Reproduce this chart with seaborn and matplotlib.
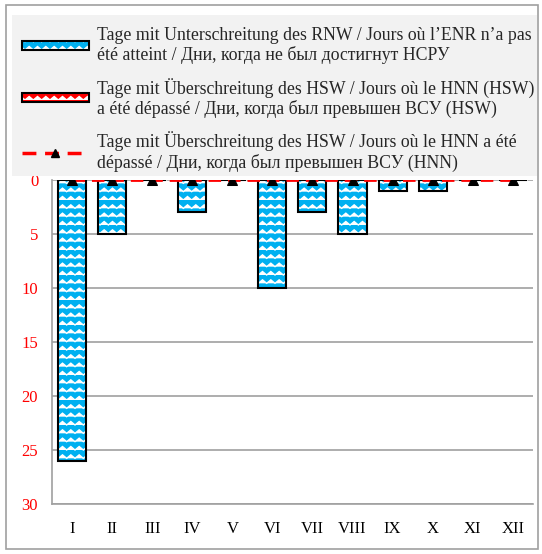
import numpy as np
import pandas as pd
import matplotlib
matplotlib.use('Agg')
import matplotlib.pyplot as plt
import seaborn as sns
from matplotlib import hatch as mhatch
from matplotlib.path import Path
from matplotlib.patches import Rectangle
from matplotlib.lines import Line2D
from matplotlib.legend_handler import HandlerTuple

MONTHS = ['I', 'II', 'III', 'IV', 'V', 'VI', 'VII', 'VIII', 'IX', 'X', 'XI', 'XII']
RNW_DAYS = [26, 5, 0, 3, 0, 10, 3, 5, 1, 1, 0, 0]   # Unterschreitung RNW
HSW_DAYS = [0, 0, 0, 0, 0, 0, 0, 0, 0, 0, 0, 0]     # Überschreitung HSW (Balken)
HNN_DAYS = [0, 0, 0, 0, 0, 0, 0, 0, 0, 0, 0, 0]     # Überschreitung HSW/HNN (Linie)
LABELS = ['Tage mit Unterschreitung des RNW / Jours où l’ENR n’a pas\nété atteint / Дни, когда не был достигнут НСРУ',
          'Tage mit Überschreitung des HSW / Jours où le HNN (HSW)\na été dépassé / Дни, когда был превышен ВСУ (HSW)',
          'Tage mit Überschreitung des HSW / Jours où le HNN a été\ndépassé / Дни, когда был превышен ВСУ (HNN)']

BLUE = '#00b0f0'
RED = '#ff0000'


# wavy hatch like the excel pattern ('~' = 6 rows per unit)
class WaveHatch(mhatch.HatchPatternBase):
    def __init__(self, hatch, density):
        self.num_rows = hatch.count('~') * density
        self.num_waves = 12
        self.row_pts = 2 * self.num_waves + 1
        self.num_vertices = self.num_rows * self.row_pts

    def set_vertices_and_codes(self, vertices, codes):
        xs = np.linspace(0, 1, self.row_pts)
        amp = np.tile([0.0, 0.035], self.num_waves + 1)[:self.row_pts]
        i = 0
        for r in range(self.num_rows):
            y0 = r / self.num_rows
            vertices[i:i + self.row_pts, 0] = xs
            vertices[i:i + self.row_pts, 1] = y0 + amp
            codes[i] = Path.MOVETO
            codes[i + 1:i + self.row_pts] = Path.LINETO
            i += self.row_pts


mhatch._hatch_types.append(WaveHatch)

sns.set_style('white')
plt.rcParams['font.family'] = ['Liberation Serif', 'DejaVu Serif']
plt.rcParams['hatch.linewidth'] = 1.0

df = pd.DataFrame({'Month': MONTHS, 'RNW': RNW_DAYS, 'HSW': HSW_DAYS, 'HNN': HNN_DAYS})

fig = plt.figure(figsize=(5.42, 5.54), dpi=100)
ax = fig.add_axes([0.096, 0.090, 0.887, 0.585])

sns.barplot(data=df, x='Month', y='RNW', color=BLUE, width=0.7, ax=ax, saturation=1)
for p in list(ax.patches):
    p.set_hatch('~~')
    p.set_edgecolor('white')
    p.set_linewidth(0)
    ax.add_patch(Rectangle(p.get_xy(), p.get_width(), p.get_height(), fill=False,
                           edgecolor='black', linewidth=1.5, zorder=3))
sns.barplot(data=df, x='Month', y='HSW', color=RED, width=0.7, ax=ax, saturation=1)
sns.lineplot(data=df, x='Month', y='HNN', ax=ax, color=RED, linestyle=(0, (4.5, 2.5)),
             linewidth=2, marker='^', markersize=7, markerfacecolor='black',
             markeredgecolor='black', zorder=5)

ax.set_ylim(30, 0)
ax.set_yticks(range(0, 31, 5))
ax.set_xlim(-0.5, 11.5)
ax.set_xlabel('')
ax.set_ylabel('')
ax.yaxis.grid(True, color='#a0a0a0', linewidth=1.2)
ax.set_axisbelow(True)
for s in ['top', 'right']:
    ax.spines[s].set_visible(False)
for s in ['left', 'bottom']:
    ax.spines[s].set_color('#a0a0a0')
    ax.spines[s].set_linewidth(1.2)
ax.tick_params(axis='y', colors=RED, labelsize=12, length=0, pad=10)
ax.tick_params(axis='x', colors='black', labelsize=12, length=0, pad=12)

# legend
fig.patches.append(Rectangle((12 / 542, 1 - 176 / 554), 525 / 542, 161 / 554,
                             transform=fig.transFigure, facecolor='#f2f2f2',
                             edgecolor='none', zorder=2))
h1 = (Rectangle((0, 0), 1, 1, facecolor=BLUE, hatch='~~', edgecolor='white', linewidth=0),
      Rectangle((0, 0), 1, 1, fill=False, edgecolor='black', linewidth=1.5))
h2 = (Rectangle((0, 0), 1, 1, facecolor=RED, hatch='~~', edgecolor='white', linewidth=0),
      Rectangle((0, 0), 1, 1, fill=False, edgecolor='black', linewidth=1.5))
h3 = Line2D([], [], color=RED, linestyle=(0, (4, 2.5)), linewidth=2.5, marker='^',
            markersize=6, markerfacecolor='black', markeredgecolor='black')
leg = fig.legend([h1, h2, h3], LABELS, loc='upper left', bbox_to_anchor=(6 / 542, 1 - 11 / 554),
                 frameon=False, fontsize=12.8, handlelength=3.75, handleheight=0.4, handletextpad=0.45,
                 labelspacing=0.77, handler_map={tuple: HandlerTuple(ndivide=1, pad=0)})
for t in leg.get_texts():
    t.set_linespacing(1.15)
leg.set_zorder(3)

fig.patches.append(Rectangle((6 / 542, 1 - 549 / 554), 532 / 542, 544 / 554,
                             transform=fig.transFigure, fill=False,
                             edgecolor='#a0a0a0', linewidth=1.2))

fig.savefig('out.png', dpi=100)
